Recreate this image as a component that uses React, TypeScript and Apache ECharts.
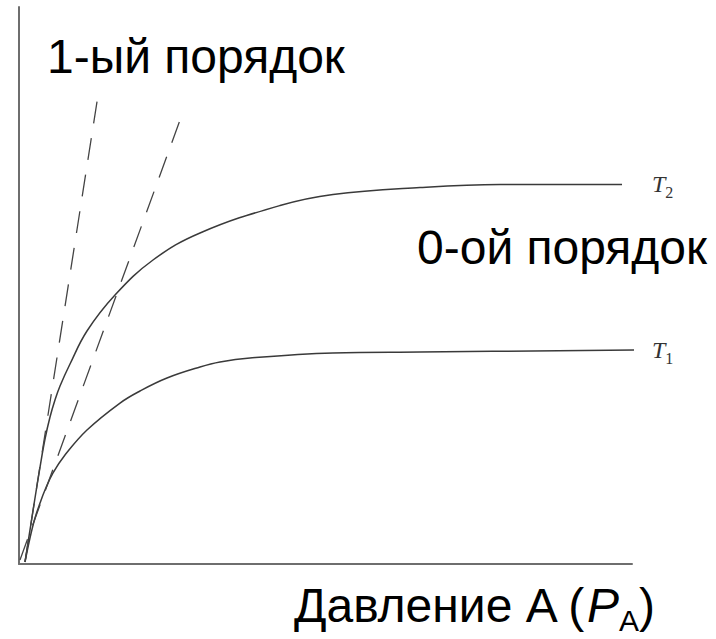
import React, { useEffect, useRef } from "react";
import * as echarts from "echarts";

// Curves (x: pressure, y: rate, arbitrary units 0–100)
const pressureT2 = [0.98, 1.79, 2.61, 3.43, 4.24, 5.06, 5.87, 6.69, 8.32, 11.09, 15.66, 21.86, 29.53, 42.58, 51.22, 65.42, 78.47, 98.37];
const rateT2 = [0.36, 6.1, 11.85, 17.41, 22.44, 26.39, 29.44, 31.96, 35.91, 41.83, 48.29, 54.58, 59.43, 64.36, 66.34, 67.59, 68.13, 68.13];

const pressureT1 = [0.98, 1.79, 2.61, 3.43, 4.24, 5.55, 7.5, 11.09, 16.48, 19.74, 24.14, 29.53, 32.79, 37.68, 51.22, 65.42, 101.79];
const rateT1 = [0.36, 4.67, 8.26, 10.95, 13.29, 16.34, 19.57, 24.06, 28.9, 31.06, 33.39, 35.37, 36.27, 36.98, 37.88, 38.06, 38.42];

// First-order (initial slope) dashed lines
const tangentT2X = [0.98, 13.05];
const tangentT2Y = [0.36, 85.28];
const tangentT1X = [0.16, 26.75];
const tangentT1Y = [0.72, 81.15];

const labelFirstOrder = "1-ый порядок";
const labelZeroOrder = "0-ой порядок";
const axisTitle = "Давление A (";

const zip = (xs: number[], ys: number[]) => xs.map((x, i) => [x, ys[i]]);

export default function App() {
  const ref = useRef<HTMLDivElement>(null);
  useEffect(() => {
    if (!ref.current) return;
    const chart = echarts.init(ref.current, undefined, { renderer: "svg" });
    const solid = { color: "#3a3a3a", width: 1.5 };
    const dashed = { color: "#444", width: 1.3, type: [22, 15] as any };
    const axisCommon = {
      type: "value" as const,
      min: 0,
      max: 100,
      axisLine: { show: true, lineStyle: { color: "#6e6e6e", width: 2 } },
      axisTick: { show: false },
      axisLabel: { show: false },
      splitLine: { show: false },
    };
    const serif = '"Liberation Serif", "DejaVu Serif", serif';
    const sans = '"Liberation Sans", Arial, sans-serif';
    const tRich = {
      t: { fontFamily: serif, fontStyle: "italic", fontSize: 24, fill: "#333", verticalAlign: "top", lineHeight: 24 },
      s: { fontFamily: serif, fontSize: 16, fill: "#333", verticalAlign: "top", lineHeight: 16, padding: [12, 0, 0, 0] },
    };
    chart.setOption({
      animation: false,
      backgroundColor: "#ffffff",
      grid: { left: 19, top: 7, width: 613, height: 557 },
      xAxis: axisCommon,
      yAxis: axisCommon,
      series: [
        { type: "line", data: zip(pressureT2, rateT2), smooth: 0.4, symbol: "none", lineStyle: solid, clip: false, silent: true },
        { type: "line", data: zip(pressureT1, rateT1), smooth: 0.4, symbol: "none", lineStyle: solid, clip: false, silent: true },
        { type: "line", data: zip(tangentT2X, tangentT2Y), symbol: "none", lineStyle: dashed, silent: true },
        { type: "line", data: zip(tangentT1X, tangentT1Y), symbol: "none", lineStyle: dashed, silent: true },
      ],
      graphic: [
        {
          type: "text",
          left: 47,
          top: 32,
          style: { text: labelFirstOrder, font: "48px " + sans, fill: "#000" },
        },
        {
          type: "text",
          left: 417,
          top: 223,
          style: { text: labelZeroOrder, font: "48px " + sans, fill: "#000" },
        },
        { type: "text", left: 652, top: 172, style: { text: "{t|T}{s|2}", rich: tRich } },
        { type: "text", left: 652, top: 338, style: { text: "{t|T}{s|1}", rich: tRich } },
        {
          type: "text",
          left: 294,
          top: 581,
          style: {
            text: "{a|" + axisTitle + "}{p|P}{s|A}{a|)}",
            rich: {
              a: { fontFamily: sans, fontSize: 48, fill: "#000", verticalAlign: "top", lineHeight: 48 },
              p: { fontFamily: sans, fontStyle: "italic", fontSize: 48, fill: "#000", verticalAlign: "top", lineHeight: 48 },
              s: { fontFamily: sans, fontSize: 30, fill: "#000", verticalAlign: "top", lineHeight: 30, padding: [24, 0, 0, 0] },
            },
          },
        },
      ],
    });
    return () => chart.dispose();
  }, []);
  return (
    <div
      ref={ref}
      style={{ position: "fixed", left: 0, top: 0, width: 716, height: 639, background: "#fff" }}
    />
  );
}
